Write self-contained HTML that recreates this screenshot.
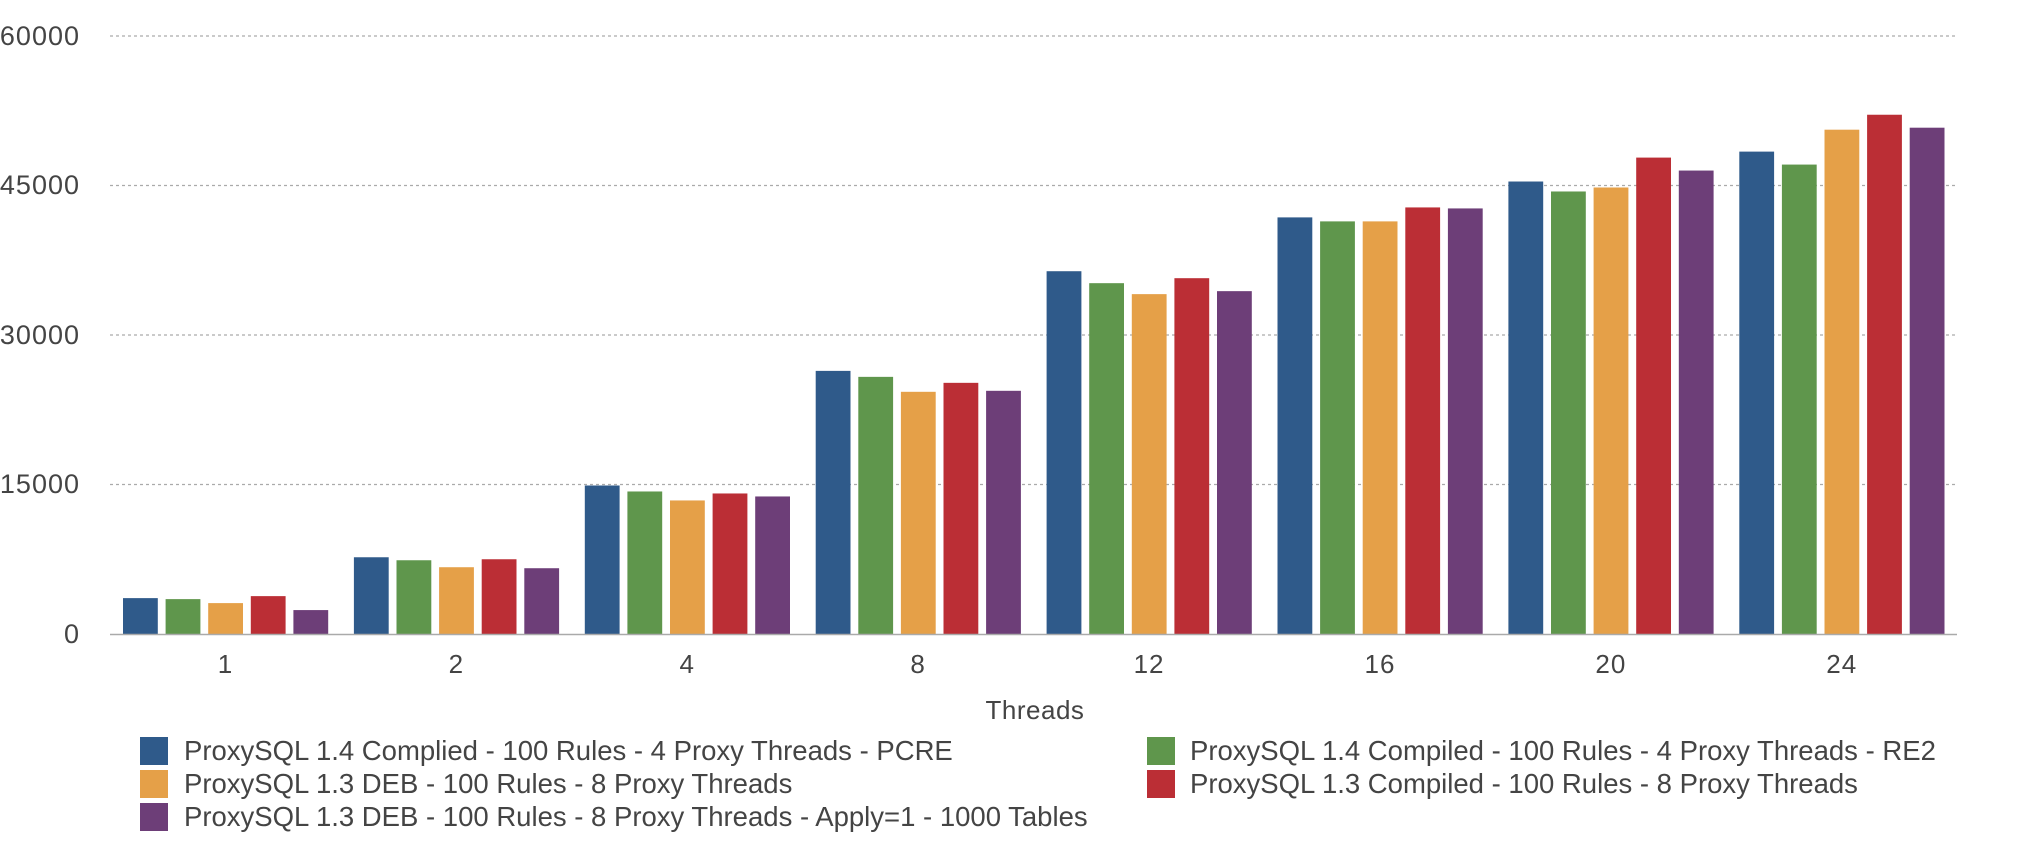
<!DOCTYPE html>
<html><head><meta charset="utf-8"><style>
html,body{margin:0;padding:0;background:#fff;}
svg{display:block;font-family:"Liberation Sans",Helvetica,Arial,sans-serif;}
</style></head><body>
<svg width="2022" height="866" viewBox="0 0 2022 866" xmlns="http://www.w3.org/2000/svg">
<g stroke="#aaa" stroke-width="1.3" stroke-dasharray="3,3">
<line x1="110" y1="36" x2="1957" y2="36"/>
<line x1="110" y1="185.5" x2="1957" y2="185.5"/>
<line x1="110" y1="335" x2="1957" y2="335"/>
<line x1="110" y1="484.5" x2="1957" y2="484.5"/>
</g>
<g fill="#444" font-size="27" letter-spacing="1" text-anchor="end">
<text x="80" y="45">60000</text>
<text x="80" y="194">45000</text>
<text x="80" y="344">30000</text>
<text x="80" y="493">15000</text>
<text x="80" y="643">0</text>
</g>
<g id="bars"></g>
<line x1="110" y1="634.5" x2="1957" y2="634.5" stroke="#aaa" stroke-width="1.5"/>
<g fill="#444" font-size="26" letter-spacing="1" text-anchor="middle" id="xl"></g>
<text x="1035" y="719" fill="#444" font-size="26" letter-spacing="0.5" text-anchor="middle">Threads</text>
<g font-size="27.5" fill="#444">
<rect x="140" y="737" width="28" height="28" fill="#2f5a8a"/>
<text x="184" y="760">ProxySQL 1.4 Complied - 100 Rules - 4 Proxy Threads - PCRE</text>
<rect x="140" y="770" width="28" height="28" fill="#e5a048"/>
<text x="184" y="793">ProxySQL 1.3 DEB - 100 Rules - 8 Proxy Threads</text>
<rect x="140" y="803" width="28" height="28" fill="#6d3e78"/>
<text x="184" y="826">ProxySQL 1.3 DEB - 100 Rules - 8 Proxy Threads - Apply=1 - 1000 Tables</text>
<rect x="1147" y="737" width="28" height="28" fill="#5f964c"/>
<text x="1190" y="760">ProxySQL 1.4 Compiled - 100 Rules - 4 Proxy Threads - RE2</text>
<rect x="1147" y="770" width="28" height="28" fill="#bb2e35"/>
<text x="1190" y="793">ProxySQL 1.3 Compiled - 100 Rules - 8 Proxy Threads</text>
</g>
<script>
var cols=["#2f5a8a","#5f964c","#e5a048","#bb2e35","#6d3e78"];
var labels=["1","2","4","8","12","16","20","24"];
var data=[[3600,3500,3100,3800,2400],[7700,7400,6700,7500,6600],[14900,14300,13400,14100,13800],[26400,25800,24300,25200,24400],[36400,35200,34100,35700,34400],[41800,41400,41400,42800,42700],[45400,44400,44800,47800,46500],[48400,47100,50600,52100,50800]];
var ns="http://www.w3.org/2000/svg",g=document.getElementById("bars"),xl=document.getElementById("xl");
var gw=230.9;
for(var i=0;i<8;i++){var gx=110+gw*i;
for(var j=0;j<5;j++){var h=data[i][j]/60000*598;var r=document.createElementNS(ns,"rect");
r.setAttribute("x",gx+13+j*42.6);r.setAttribute("width",34.8);r.setAttribute("y",634-h);r.setAttribute("height",h);r.setAttribute("fill",cols[j]);g.appendChild(r);}
var t=document.createElementNS(ns,"text");t.setAttribute("x",gx+gw/2);t.setAttribute("y",673);t.textContent=labels[i];xl.appendChild(t);}
</script>
</svg>
</body></html>
